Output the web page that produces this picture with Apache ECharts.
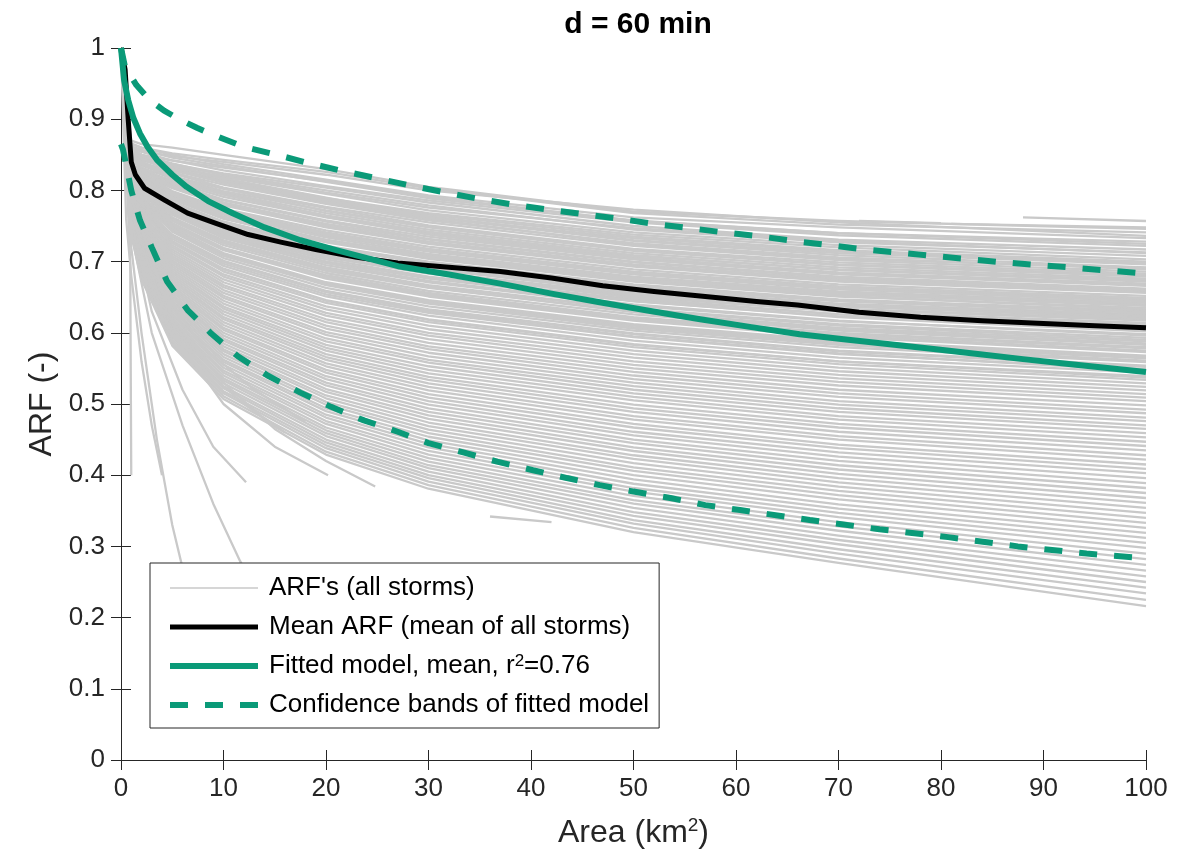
<!DOCTYPE html>
<html>
<head>
<meta charset="utf-8">
<title>ARF, d = 60 min</title>
<script src="https://cdn.jsdelivr.net/npm/echarts@6/dist/echarts.min.js"></script>
<style>
  html, body { margin: 0; padding: 0; background: #fff; }
  #chart { width: 1192px; height: 859px; }
</style>
</head>
<body>
<div id="chart"></div>
<script>
// Areas (km²) at which every full-length storm ARF curve is sampled
const stormAreas = [0, 1, 2, 5, 10, 20, 30, 50, 70, 100];

// ARF of each storm at stormAreas
const stormArfs = [
  [1, .870, .865, .860, .850, .830, .805, .770, .757, .746],
  [1, .865, .860, .852, .843, .826, .803, .768, .752, .741],
  [1, .860, .855, .848, .840, .822, .800, .773, .755, .736],
  [1, .866, .860, .850, .837, .815, .793, .762, .748, .733],
  [1, .862, .857, .846, .834, .812, .789, .758, .740, .725],
  [1, .855, .850, .842, .832, .813, .791, .757, .740, .728],
  [1, .862, .854, .842, .828, .806, .786, .755, .737, .722],
  [1, .852, .847, .837, .824, .804, .783, .750, .731, .717],
  [1, .851, .846, .836, .822, .800, .779, .745, .727, .713],
  [1, .858, .850, .838, .821, .797, .776, .747, .729, .712],
  [1, .850, .844, .833, .819, .795, .772, .741, .723, .708],
  [1, .856, .847, .834, .816, .789, .768, .738, .720, .703],
  [1, .848, .842, .831, .814, .787, .766, .735, .716, .700],
  [1, .859, .849, .832, .811, .784, .762, .733, .714, .698],
  [1, .860, .850, .835, .817, .790, .764, .730, .712, .696],
  [1, .853, .845, .830, .812, .786, .762, .729, .709, .692],
  [1, .844, .838, .828, .811, .783, .760, .724, .704, .691],
  [1, .846, .838, .825, .808, .781, .758, .726, .706, .689],
  [1, .850, .840, .824, .804, .777, .755, .722, .702, .686],
  [1, .843, .835, .820, .802, .775, .751, .718, .699, .683],
  [1, .848, .836, .819, .799, .772, .749, .716, .696, .681],
  [1, .857, .845, .826, .803, .771, .748, .715, .695, .679],
  [1, .840, .832, .817, .797, .768, .745, .712, .692, .676],
  [1, .852, .840, .820, .796, .764, .741, .708, .689, .674],
  [1, .849, .837, .816, .794, .765, .742, .709, .688, .672],
  [1, .838, .829, .812, .791, .762, .739, .706, .685, .669],
  [1, .837, .828, .814, .794, .763, .738, .704, .683, .667],
  [1, .845, .832, .810, .787, .758, .735, .703, .682, .666],
  [1, .836, .826, .808, .786, .756, .732, .700, .679, .662],
  [1, .843, .830, .807, .783, .753, .731, .699, .677, .661],
  [1, .842, .828, .805, .781, .751, .728, .696, .675, .659],
  [1, .832, .823, .806, .783, .750, .726, .694, .674, .657],
  [1, .833, .822, .803, .779, .748, .725, .693, .672, .656],
  [1, .839, .824, .799, .774, .744, .721, .689, .668, .652],
  [1, .831, .819, .797, .772, .741, .718, .686, .665, .649],
  [1, .838, .823, .797, .771, .740, .717, .685, .664, .647],
  [1, .836, .820, .794, .768, .736, .714, .682, .661, .645],
  [1, .829, .817, .795, .769, .738, .715, .683, .662, .644],
  [1, .828, .815, .792, .766, .734, .711, .679, .658, .642],
  [1, .835, .818, .790, .763, .731, .709, .677, .656, .640],
  [1, .834, .817, .789, .762, .729, .707, .675, .654, .638],
  [1, .826, .812, .787, .760, .727, .704, .672, .651, .635],
  [1, .825, .813, .790, .763, .729, .706, .673, .652, .633],
  [1, .831, .813, .784, .756, .722, .700, .668, .647, .631],
  [1, .830, .812, .782, .753, .719, .698, .667, .646, .629],
  [1, .823, .808, .782, .754, .720, .697, .665, .644, .628],
  [1, .822, .808, .784, .756, .721, .697, .663, .641, .626],
  [1, .829, .810, .779, .750, .716, .693, .661, .640, .624],
  [1, .828, .808, .776, .746, .712, .690, .659, .638, .622],
  [1, .821, .805, .777, .748, .713, .690, .658, .637, .621],
  [1, .819, .804, .779, .750, .714, .690, .656, .634, .619],
  [1, .826, .806, .774, .744, .709, .686, .654, .633, .617],
  [1, .818, .801, .772, .742, .706, .683, .651, .630, .614],
  [1, .825, .804, .771, .741, .706, .684, .652, .630, .612],
  [1, .824, .803, .770, .739, .703, .679, .647, .626, .610],
  [1, .815, .800, .773, .744, .708, .684, .649, .626, .607],
  [1, .816, .798, .767, .736, .700, .676, .644, .623, .604],
  [1, .821, .801, .768, .737, .700, .677, .645, .622, .602],
  [1, .820, .800, .766, .733, .695, .671, .638, .616, .598],
  [1, .812, .796, .766, .735, .698, .673, .640, .617, .596],
  [1, .812, .794, .762, .730, .692, .667, .634, .612, .593],
  [1, .817, .797, .762, .729, .691, .666, .633, .610, .590],
  [1, .818, .797, .760, .726, .687, .663, .630, .607, .588],
  [1, .808, .790, .759, .727, .689, .664, .629, .605, .585],
  [1, .810, .790, .757, .723, .684, .659, .626, .603, .583],
  [1, .814, .791, .753, .719, .681, .656, .622, .600, .580],
  [1, .815, .792, .754, .719, .679, .654, .621, .598, .578],
  [1, .806, .786, .752, .718, .679, .653, .619, .596, .575],
  [1, .807, .786, .750, .716, .676, .651, .617, .594, .573],
  [1, .813, .788, .748, .712, .671, .646, .612, .589, .568],
  [1, .811, .786, .746, .710, .670, .644, .610, .587, .566],
  [1, .805, .782, .744, .709, .668, .642, .608, .585, .564],
  [1, .803, .781, .744, .708, .667, .641, .606, .583, .561],
  [1, .810, .784, .742, .705, .663, .637, .603, .580, .559],
  [1, .802, .778, .738, .701, .659, .633, .599, .575, .554],
  [1, .807, .780, .737, .700, .658, .632, .598, .574, .552],
  [1, .808, .780, .735, .697, .654, .628, .594, .570, .549],
  [1, .799, .776, .737, .700, .657, .630, .595, .571, .547],
  [1, .800, .775, .732, .694, .651, .624, .589, .565, .544],
  [1, .805, .776, .729, .690, .646, .619, .584, .560, .539],
  [1, .803, .774, .727, .689, .645, .618, .583, .560, .537],
  [1, .797, .771, .726, .686, .642, .615, .580, .556, .534],
  [1, .802, .772, .723, .682, .637, .610, .575, .551, .529],
  [1, .795, .767, .720, .679, .633, .605, .570, .546, .524],
  [1, .800, .768, .717, .675, .628, .600, .565, .541, .519],
  [1, .792, .763, .714, .671, .624, .596, .560, .536, .514],
  [1, .797, .764, .711, .667, .619, .591, .555, .531, .509],
  [1, .790, .759, .708, .664, .615, .586, .550, .526, .504],
  [1, .795, .760, .705, .660, .610, .581, .545, .520, .498],
  [1, .787, .755, .702, .656, .606, .577, .540, .515, .492],
  [1, .792, .756, .699, .652, .601, .572, .535, .510, .487],
  [1, .785, .751, .696, .649, .597, .567, .530, .504, .481],
  [1, .790, .752, .693, .645, .592, .562, .525, .499, .476],
  [1, .782, .747, .690, .641, .588, .558, .520, .494, .470],
  [1, .787, .748, .687, .637, .583, .553, .515, .489, .465],
  [1, .780, .743, .684, .634, .579, .548, .510, .483, .459],
  [1, .785, .744, .681, .630, .575, .543, .505, .478, .453],
  [1, .777, .739, .678, .626, .570, .538, .499, .472, .447],
  [1, .782, .740, .675, .622, .566, .534, .494, .467, .441],
  [1, .775, .735, .672, .619, .562, .529, .489, .461, .435],
  [1, .780, .736, .669, .615, .557, .524, .483, .455, .428],
  [1, .772, .731, .666, .611, .553, .519, .478, .450, .422],
  [1, .777, .732, .663, .607, .548, .514, .472, .443, .415],
  [1, .770, .727, .660, .604, .544, .509, .467, .438, .409],
  [1, .775, .728, .657, .600, .539, .504, .461, .432, .403],
  [1, .767, .723, .654, .596, .535, .499, .456, .426, .396],
  [1, .772, .724, .651, .592, .530, .494, .450, .420, .389],
  [1, .765, .719, .648, .589, .526, .489, .445, .414, .382],
  [1, .770, .720, .645, .585, .521, .484, .439, .408, .375],
  [1, .762, .715, .642, .581, .517, .479, .434, .402, .368],
  [1, .767, .716, .639, .577, .512, .474, .428, .396, .361],
  [1, .760, .711, .636, .574, .508, .469, .423, .390, .354],
  [1, .765, .712, .633, .570, .503, .464, .417, .384, .347],
  [1, .757, .707, .630, .566, .499, .459, .411, .378, .340],
  [1, .762, .708, .627, .562, .494, .454, .406, .372, .333],
  [1, .755, .703, .624, .559, .490, .449, .400, .366, .326],
  [1, .760, .704, .621, .555, .485, .444, .394, .359, .319],
  [1, .752, .699, .618, .551, .481, .439, .388, .353, .312],
  [1, .757, .700, .615, .547, .476, .434, .382, .347, .305],
  [1, .750, .695, .612, .544, .472, .429, .377, .341, .298],
  [1, .755, .696, .609, .540, .467, .424, .371, .334, .290],
  [1, .747, .691, .606, .536, .463, .419, .365, .328, .282],
  [1, .752, .692, .603, .533, .459, .414, .360, .322, .274],
  [1, .745, .687, .600, .529, .455, .410, .354, .315, .266],
  [1, .750, .688, .597, .525, .450, .405, .348, .309, .258],
  [1, .742, .683, .594, .522, .446, .400, .343, .303, .250],
  [1, .747, .684, .591, .518, .442, .396, .337, .296, .242],
  [1, .740, .679, .588, .515, .438, .391, .332, .290, .234],
  [1, .745, .680, .585, .511, .433, .386, .326, .283, .225],
  [1, .737, .675, .582, .507, .429, .381, .320, .277, .216]
];

// Storms that only cover part of the area range: [area, ARF] pairs
const partialStorms = [
  [[0, 1], [0.9, 0.70], [1.0, 0.40]],
  [[0, 1], [0.5, 0.76], [1, 0.68], [2, 0.56], [3, 0.47], [4, 0.40]],
  [[0, 1], [1, 0.72], [2, 0.60], [3.5, 0.45], [5, 0.33], [6.5, 0.24]],
  [[0, 1], [1, 0.76], [3, 0.63], [6, 0.52], [9, 0.44], [12.2, 0.39]],
  [[0, 1], [1, 0.74], [3, 0.60], [6, 0.47], [9, 0.36], [11.6, 0.28], [13, 0.24]],
  [[0, 1], [1, 0.78], [3, 0.68], [6, 0.58], [10, 0.50], [15, 0.44], [20.2, 0.40]],
  [[0, 1], [1, 0.80], [5, 0.62], [10, 0.53], [15, 0.465], [20, 0.42], [24.8, 0.384]],
  [[0, 1], [1, 0.79], [4, 0.66], [8, 0.58], [13, 0.52], [18, 0.475]],
  [[0, 1], [1, 0.77], [4, 0.64], [8, 0.55], [12, 0.50], [16, 0.46]],
  [[36, 0.342], [42, 0.334]],
  [[72, 0.757], [80, 0.754]],
  [[81, 0.753], [100, 0.748]],
  [[88, 0.762], [100, 0.757]]
];

// Mean ARF of all storms
const meanArea = [0, 0.4, 0.7, 1.0, 1.4, 2.3, 4.3, 6.5, 9.2, 12.4, 15.7, 19, 23, 27, 32, 37, 42, 47, 52, 57, 62, 66, 72, 78, 84, 90, 95, 100];
const meanArf  = [1.0, 0.97, 0.90, 0.84, 0.822, 0.803, 0.786, 0.768, 0.754, 0.738, 0.727, 0.717, 0.706, 0.698, 0.692, 0.686, 0.677, 0.666, 0.658, 0.651, 0.644, 0.639, 0.629, 0.622, 0.617, 0.613, 0.610, 0.607];

// Fitted model (mean)
const fitArea = [0, 0.3, 0.7, 1.2, 1.85, 2.6, 3.5, 5, 6.4, 8.5, 10.9, 14, 17.5, 21, 24, 27.2, 32, 37, 42, 46.7, 51.5, 56.5, 61.5, 66.2, 70.5, 75, 79.5, 83.8, 88, 92, 96, 100];
const fitArf  = [1.0, 0.955, 0.927, 0.902, 0.88, 0.861, 0.843, 0.822, 0.805, 0.785, 0.768, 0.748, 0.73, 0.716, 0.705, 0.693, 0.682, 0.669, 0.655, 0.643, 0.631, 0.619, 0.608, 0.598, 0.591, 0.584, 0.577, 0.570, 0.563, 0.557, 0.551, 0.545];

// Upper confidence band
const upperArea = [0, 0.4, 1.5, 2.8, 4.2, 5.8, 7.4, 9, 12, 15.2, 18.4, 22, 25.6, 28.5, 32, 35.3, 38.7, 42.2, 45.4, 48.7, 52, 55.5, 58.8, 62, 66.2, 72, 79.2, 86, 93.3, 100];
const upperArf  = [1.0, 0.973, 0.948, 0.927, 0.912, 0.899, 0.888, 0.878, 0.861, 0.85, 0.838, 0.826, 0.815, 0.806, 0.796, 0.787, 0.779, 0.772, 0.766, 0.760, 0.753, 0.747, 0.741, 0.736, 0.728, 0.718, 0.708, 0.699, 0.691, 0.683];

// Lower confidence band
const lowerArea = [0, 0.2, 1.0, 1.85, 3, 4.5, 6.5, 8.8, 11.4, 14.3, 17.5, 20.5, 23.7, 27, 30, 33.4, 36.7, 40.2, 43.5, 46.7, 50, 53.6, 57, 60.4, 67.2, 74, 80.7, 87.5, 94.2, 100];
const lowerArf  = [0.865, 0.857, 0.80, 0.758, 0.72, 0.672, 0.632, 0.599, 0.567, 0.54, 0.516, 0.496, 0.477, 0.461, 0.445, 0.432, 0.419, 0.407, 0.396, 0.386, 0.377, 0.368, 0.358, 0.351, 0.337, 0.324, 0.313, 0.30, 0.29, 0.283];

// Axis ticks
const xTicks = ['0', '10', '20', '30', '40', '50', '60', '70', '80', '90', '100'];
const yTicks = ['0', '0.1', '0.2', '0.3', '0.4', '0.5', '0.6', '0.7', '0.8', '0.9', '1'];

const NAME_STORMS = "ARF's (all storms)";
const NAME_MEAN = 'Mean ARF (mean of all storms)';
const NAME_FIT = 'Fitted model, mean, r\u00B2=0.76';
const NAME_BANDS = 'Confidence bands of fitted model';

const GRAY = '#c9c9c9';
const GREEN = '#0a9a78';
const AXIS = '#262626';
const FONT = '"Liberation Sans", Arial, Helvetica, sans-serif';

const pairs = (xs, ys) => xs.map((x, i) => [x, ys[i]]);

const series = [];
const grayStyle = { color: GRAY, width: 2.3, join: 'round' };

stormArfs.forEach(vals => {
  series.push({
    name: NAME_STORMS, type: 'line', silent: true, symbol: 'none', showSymbol: false, z: 1,
    itemStyle: { color: GRAY }, lineStyle: grayStyle,
    data: pairs(stormAreas, vals)
  });
});
partialStorms.forEach(pts => {
  series.push({
    name: NAME_STORMS, type: 'line', silent: true, symbol: 'none', showSymbol: false, z: 1,
    itemStyle: { color: GRAY }, lineStyle: grayStyle,
    data: pts
  });
});

series.push({
  name: NAME_MEAN, type: 'line', silent: true, symbol: 'none', showSymbol: false, z: 3,
  itemStyle: { color: '#000' },
  lineStyle: { color: '#000', width: 5, join: 'round' },
  data: pairs(meanArea, meanArf)
});
series.push({
  name: NAME_FIT, type: 'line', silent: true, symbol: 'none', showSymbol: false, z: 4,
  itemStyle: { color: GREEN },
  lineStyle: { color: GREEN, width: 6, join: 'round' },
  data: pairs(fitArea, fitArf)
});
[[upperArea, upperArf], [lowerArea, lowerArf]].forEach(([xs, ys]) => {
  series.push({
    name: NAME_BANDS, type: 'line', silent: true, symbol: 'none', showSymbol: false, z: 5,
    itemStyle: { color: GREEN },
    lineStyle: { color: GREEN, width: 6, type: [18, 17], cap: 'butt' },
    data: pairs(xs, ys)
  });
});

const chart = echarts.init(document.getElementById('chart'), null, { renderer: 'canvas' });

const axisCommon = {
  axisLine: { show: true, lineStyle: { color: AXIS, width: 1 } },
  axisTick: { show: true, inside: true, length: 10, lineStyle: { color: AXIS, width: 1 } },
  splitLine: { show: false }
};
const supStyle = { fontFamily: FONT, fontSize: 19, color: AXIS, verticalAlign: 'top', lineHeight: 19 };

chart.setOption({
  animation: false,
  backgroundColor: '#fff',
  textStyle: { fontFamily: FONT },
  title: {
    text: 'd = 60 min',
    left: 633, top: 5, textAlign: 'center',
    textStyle: { fontFamily: FONT, fontSize: 30, fontWeight: 'bold', color: '#000' }
  },
  grid: { left: 121, right: 46, top: 48, bottom: 99, show: false },
  xAxis: [
    Object.assign({
      type: 'value', min: 0, max: 100, interval: 10, position: 'bottom',
      name: 'Area (km{sup|2})', nameLocation: 'middle', nameGap: 56,
      nameTextStyle: {
        fontFamily: FONT, fontSize: 32, color: AXIS, lineHeight: 34,
        rich: { sup: supStyle }
      },
      axisLabel: {
        fontFamily: FONT, fontSize: 26, color: AXIS, margin: 16,
        formatter: v => xTicks[Math.round(v / 10)]
      }
    }, axisCommon),
    Object.assign({
      type: 'value', min: 0, max: 100, interval: 10, position: 'top',
      axisLabel: { show: false }
    }, axisCommon)
  ],
  yAxis: [
    Object.assign({
      type: 'value', min: 0, max: 1, interval: 0.1, position: 'left',
      name: 'ARF (-)', nameLocation: 'middle', nameGap: 62, nameRotate: 90,
      nameTextStyle: { fontFamily: FONT, fontSize: 32, color: AXIS },
      axisLabel: {
        fontFamily: FONT, fontSize: 26, color: AXIS, margin: 16,
        formatter: v => yTicks[Math.round(v * 10)]
      }
    }, axisCommon),
    Object.assign({
      type: 'value', min: 0, max: 1, interval: 0.1, position: 'right',
      axisLabel: { show: false }
    }, axisCommon)
  ],
  legend: {
    show: true,
    orient: 'vertical',
    left: 150, top: 563,
    padding: [12, 10, 10, 17],
    itemWidth: 88, itemHeight: 14, itemGap: 13,
    selectedMode: false,
    backgroundColor: '#fff',
    borderColor: AXIS, borderWidth: 1, borderRadius: 0,
    itemStyle: { color: 'rgba(0,0,0,0)', borderWidth: 0, opacity: 0 },
    data: [
      { name: NAME_STORMS, lineStyle: { color: GRAY, width: 1.6 } },
      { name: NAME_MEAN, lineStyle: { color: '#000', width: 5 } },
      { name: NAME_FIT, lineStyle: { color: GREEN, width: 6 } },
      { name: NAME_BANDS, lineStyle: { color: GREEN, width: 6, type: [18, 17] } }
    ],
    formatter: name => name === NAME_FIT ? 'Fitted model, mean, r{sup|2}=0.76' : name,
    textStyle: {
      fontFamily: FONT, fontSize: 26, lineHeight: 26, color: '#000', padding: [0, 0, 0, 6],
      rich: { sup: { fontFamily: FONT, fontSize: 17, color: '#000', verticalAlign: 'top', lineHeight: 17 } }
    }
  },
  series: series
});
</script>
</body>
</html>
